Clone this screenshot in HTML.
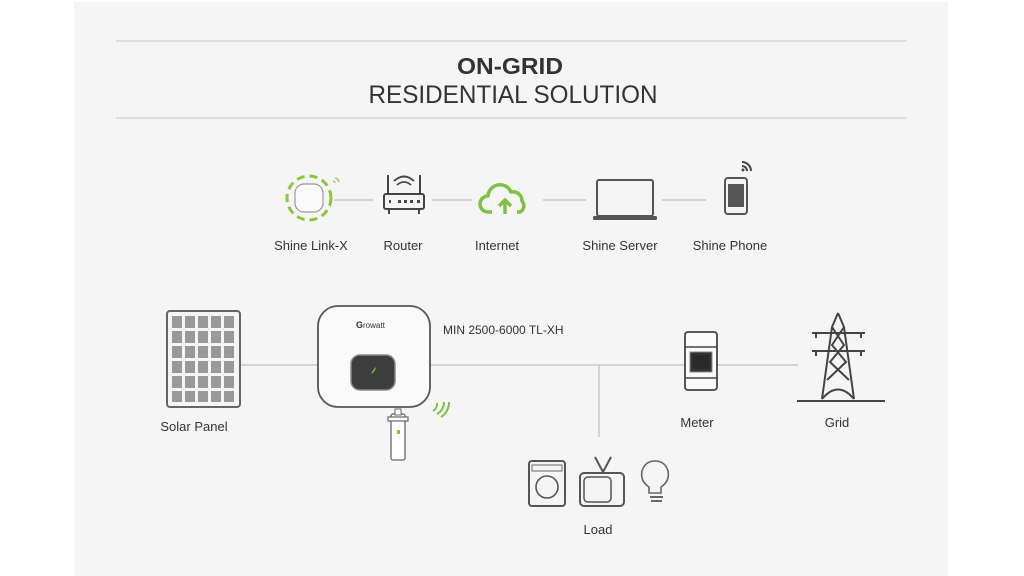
<!DOCTYPE html>
<html><head><style>
html,body{margin:0;padding:0;background:#fff;}
svg{display:block;}
text{font-family:"Liberation Sans",sans-serif;fill:#333;}
</style></head><body>
<svg width="1024" height="576" viewBox="0 0 1024 576" xmlns="http://www.w3.org/2000/svg">
<rect x="74" y="2" width="874" height="574" fill="#f5f5f5"/>
<line x1="116" y1="41" x2="907" y2="41" stroke="#d6d6d6" stroke-width="1.5"/>
<line x1="116" y1="118" x2="907" y2="118" stroke="#d6d6d6" stroke-width="1.5"/>
<text x="510" y="74" text-anchor="middle" font-size="23" font-weight="bold" fill="#1a1a1a" textLength="106" lengthAdjust="spacingAndGlyphs">ON-GRID</text>
<text x="513" y="103" text-anchor="middle" font-size="25" fill="#444" textLength="289" lengthAdjust="spacingAndGlyphs">RESIDENTIAL SOLUTION</text>

<!-- top connectors -->
<g stroke="#c8c8c8" stroke-width="1.5">
<line x1="334" y1="200" x2="373" y2="200"/>
<line x1="432" y1="200" x2="472" y2="200"/>
<line x1="543" y1="200" x2="586" y2="200"/>
<line x1="662" y1="200" x2="706" y2="200"/>
</g>
<!-- shine link-x -->
<circle cx="309" cy="198" r="22" fill="none" stroke="#8cc63f" stroke-width="3" stroke-dasharray="8 5"/>
<rect x="295" y="184" width="28" height="28" rx="9" fill="#fafafa" stroke="#999" stroke-width="1.2"/>
<path d="M335 178 a5 5 0 0 1 4 4 M333 181 a2 2 0 0 1 2 2" stroke="#8cc63f" fill="none" stroke-width="1.2"/>
<!-- router -->
<rect x="384" y="194" width="40" height="15" rx="2" fill="none" stroke="#444" stroke-width="2"/>
<line x1="388" y1="194" x2="388" y2="175" stroke="#444" stroke-width="2"/>
<line x1="420" y1="194" x2="420" y2="175" stroke="#444" stroke-width="2"/>
<path d="M397 185 q7-6 14 0 M394 181 q10-9 20 0" stroke="#444" fill="none" stroke-width="1.8"/>
<g fill="#444"><rect x="389" y="200" width="2" height="3"/><rect x="398" y="200" width="3" height="3"/><rect x="404" y="200" width="3" height="3"/><rect x="410" y="200" width="3" height="3"/><rect x="417" y="200" width="3" height="3"/></g>
<line x1="389" y1="209" x2="389" y2="214" stroke="#444" stroke-width="2"/>
<line x1="419" y1="209" x2="419" y2="214" stroke="#444" stroke-width="2"/>
<!-- cloud -->
<path d="M492 212 h-4 a8 8 0 0 1 0-16 a12 12 0 0 1 23-4 a9 9 0 0 1 11 9 a7 7 0 0 1-2 11 h-3" fill="none" stroke="#7dc241" stroke-width="3.5" stroke-linejoin="round"/>
<path d="M505 214 v-13 M499 206 l6-6 6 6" fill="none" stroke="#7dc241" stroke-width="3.5"/>
<!-- laptop -->
<rect x="597" y="180" width="56" height="36" rx="2" fill="none" stroke="#555" stroke-width="2"/>
<rect x="593" y="216" width="64" height="4" rx="1.5" fill="#555"/>
<!-- phone -->
<rect x="725" y="178" width="22" height="36" rx="3" fill="none" stroke="#555" stroke-width="2"/>
<rect x="728" y="184" width="16" height="23" fill="#555"/>
<path d="M742 162 a9 9 0 0 1 9 9 M742 166 a5 5 0 0 1 5 5" stroke="#444" fill="none" stroke-width="2"/>
<circle cx="743" cy="170" r="1.5" fill="#444"/>

<g font-size="13" fill="#333" text-anchor="middle">
<text x="311" y="250">Shine Link-X</text>
<text x="403" y="250">Router</text>
<text x="497" y="250">Internet</text>
<text x="620" y="250">Shine Server</text>
<text x="730" y="250">Shine Phone</text>
</g>

<!-- bottom lines -->
<g stroke="#c8c8c8" stroke-width="1.5">
<line x1="240" y1="365" x2="318" y2="365"/>
<line x1="430" y1="365" x2="798" y2="365"/>
<line x1="599" y1="365" x2="599" y2="437"/>
</g>
<!-- solar panel -->
<rect x="167" y="311" width="73" height="96" rx="3" fill="#f5f5f5" stroke="#666" stroke-width="2"/>
<g fill="#999">
<rect x="172" y="316" width="10" height="12"/><rect x="185" y="316" width="10" height="12"/><rect x="198" y="316" width="10" height="12"/><rect x="211" y="316" width="10" height="12"/><rect x="224" y="316" width="10" height="12"/>
<rect x="172" y="331" width="10" height="12"/><rect x="185" y="331" width="10" height="12"/><rect x="198" y="331" width="10" height="12"/><rect x="211" y="331" width="10" height="12"/><rect x="224" y="331" width="10" height="12"/>
<rect x="172" y="346" width="10" height="12"/><rect x="185" y="346" width="10" height="12"/><rect x="198" y="346" width="10" height="12"/><rect x="211" y="346" width="10" height="12"/><rect x="224" y="346" width="10" height="12"/>
<rect x="172" y="361" width="10" height="12"/><rect x="185" y="361" width="10" height="12"/><rect x="198" y="361" width="10" height="12"/><rect x="211" y="361" width="10" height="12"/><rect x="224" y="361" width="10" height="12"/>
<rect x="172" y="376" width="10" height="12"/><rect x="185" y="376" width="10" height="12"/><rect x="198" y="376" width="10" height="12"/><rect x="211" y="376" width="10" height="12"/><rect x="224" y="376" width="10" height="12"/>
<rect x="172" y="391" width="10" height="11"/><rect x="185" y="391" width="10" height="11"/><rect x="198" y="391" width="10" height="11"/><rect x="211" y="391" width="10" height="11"/><rect x="224" y="391" width="10" height="11"/>
</g>
<!-- inverter -->
<rect x="318" y="306" width="112" height="101" rx="20" fill="#fafafa" stroke="#555" stroke-width="1.8"/>
<text x="356" y="328" font-size="9" font-weight="bold" fill="#7dc241">G</text>
<text x="363" y="328" font-size="8" fill="#666">rowatt</text>
<rect x="351" y="355" width="44" height="35" rx="9" fill="#3d3d3d" stroke="#888" stroke-width="1.5"/>
<path d="M371 374 q3-6 5-7 q-1 5-5 7z" fill="#7dc241"/>
<text x="443" y="334" font-size="12" fill="#333">MIN 2500-6000 TL-XH</text>
<!-- dongle -->
<rect x="391" y="414" width="14" height="46" rx="2" fill="#fff" stroke="#666" stroke-width="1.3"/>
<rect x="388" y="417" width="20" height="4" fill="#fff" stroke="#666" stroke-width="1.2"/>
<rect x="395" y="409" width="6" height="6" fill="#fff" stroke="#666"/>
<rect x="397" y="430" width="3" height="4" fill="#7dc241"/>
<path d="M433 411 a8 8 0 0 0 4-8 M437 414 a13 13 0 0 0 7-12 M441 417 a17 17 0 0 0 8-15" stroke="#7dc241" fill="none" stroke-width="2"/>
<!-- meter -->
<rect x="685" y="332" width="32" height="58" rx="3" fill="#fafafa" stroke="#444" stroke-width="1.8"/>
<line x1="685" y1="347" x2="717" y2="347" stroke="#444" stroke-width="1.5"/>
<line x1="685" y1="378" x2="717" y2="378" stroke="#444" stroke-width="1.5"/>
<rect x="690" y="352" width="22" height="20" fill="#333" stroke="#888"/>
<rect x="693" y="355" width="16" height="14" fill="#2a2a2a"/>
<!-- tower -->
<g stroke="#444" stroke-width="2" fill="none">
<line x1="797" y1="401" x2="885" y2="401"/>
<path d="M838 313 L832 327 L822 399 M838 313 L844 327 L854 399"/>
<path d="M812 333 L865 333 M812 351 L865 351"/>
<path d="M832 327 L844 345 L830 362 L849 380 M844 327 L832 345 L846 362 L827 380"/>
<path d="M822 399 Q838 380 854 399"/>
<line x1="816" y1="333" x2="816" y2="338"/><line x1="861" y1="333" x2="861" y2="338"/>
<line x1="816" y1="351" x2="816" y2="356"/><line x1="861" y1="351" x2="861" y2="356"/>
</g>
<!-- loads -->
<rect x="529" y="461" width="36" height="45" rx="3" fill="none" stroke="#555" stroke-width="2"/>
<rect x="532" y="465" width="30" height="6" fill="none" stroke="#666"/>
<circle cx="547" cy="487" r="11" fill="none" stroke="#555" stroke-width="1.6"/>
<rect x="580" y="473" width="44" height="33" rx="4" fill="none" stroke="#555" stroke-width="2"/>
<rect x="584" y="477" width="27" height="25" rx="4" fill="none" stroke="#555" stroke-width="1.5"/>
<path d="M595 457 L603 472 L611 457" stroke="#555" fill="none" stroke-width="2"/>
<path d="M649 487 q-9-6-7-16 q3-10 13-10 q10 0 13 10 q2 10-7 16 v6 h-12z" fill="none" stroke="#666" stroke-width="1.6"/>
<line x1="650" y1="497" x2="663" y2="497" stroke="#666" stroke-width="2"/>
<line x1="651" y1="501" x2="662" y2="501" stroke="#666" stroke-width="2"/>

<g font-size="13" fill="#333" text-anchor="middle">
<text x="194" y="431">Solar Panel</text>
<text x="697" y="427">Meter</text>
<text x="837" y="427">Grid</text>
<text x="598" y="534">Load</text>
</g>
</svg>
</body></html>
